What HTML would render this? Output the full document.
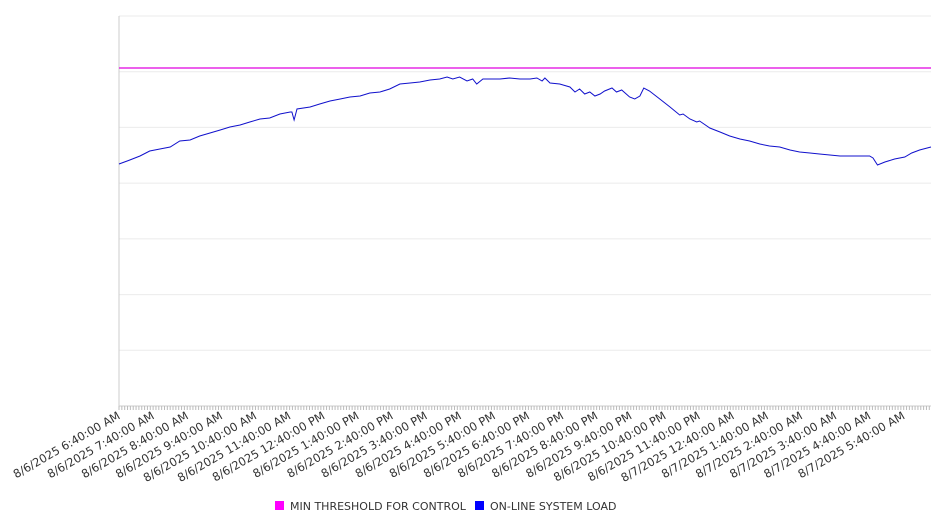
<!DOCTYPE html>
<html><head><meta charset="utf-8"><style>
body{margin:0;background:#fff;font-family:"DejaVu Sans","Liberation Sans",sans-serif}
svg{display:block}
</style></head><body>
<svg id="chart" width="946" height="526" viewBox="0 0 946 526" xmlns="http://www.w3.org/2000/svg"></svg>
<script>
const minutes=[0,19,37,54,72,90,107,125,142,160,178,195,213,230,248,265,283,301,304,308,313,336,353,371,389,406,424,441,459,476,494,512,529,547,564,577,587,599,612,622,629,640,652,670,687,705,723,735,744,749,758,775,793,802,810,819,828,837,846,854,867,875,884,898,907,916,923,933,951,969,986,992,1004,1016,1021,1039,1057,1074,1092,1109,1127,1144,1162,1180,1197,1215,1232,1250,1268,1285,1303,1320,1326,1334,1347,1364,1382,1394,1408,1428];
const loadValues=[2178,2214,2250,2295,2313,2331,2385,2394,2430,2457,2484,2511,2529,2556,2583,2592,2628,2646,2646,2574,2673,2691,2718,2745,2763,2781,2790,2817,2826,2853,2898,2907,2916,2934,2943,2961,2943,2961,2925,2943,2898,2943,2943,2943,2952,2943,2943,2952,2925,2952,2907,2898,2871,2826,2853,2808,2826,2790,2808,2835,2862,2826,2844,2781,2763,2790,2862,2835,2763,2691,2619,2628,2583,2556,2565,2502,2466,2430,2403,2385,2358,2340,2331,2304,2286,2277,2268,2259,2250,2250,2250,2250,2232,2169,2196,2223,2241,2277,2304,2331];
const thresholdValue=3042;
const tickLabels=["8/6/2025 6:40:00 AM","8/6/2025 7:40:00 AM","8/6/2025 8:40:00 AM","8/6/2025 9:40:00 AM","8/6/2025 10:40:00 AM","8/6/2025 11:40:00 AM","8/6/2025 12:40:00 PM","8/6/2025 1:40:00 PM","8/6/2025 2:40:00 PM","8/6/2025 3:40:00 PM","8/6/2025 4:40:00 PM","8/6/2025 5:40:00 PM","8/6/2025 6:40:00 PM","8/6/2025 7:40:00 PM","8/6/2025 8:40:00 PM","8/6/2025 9:40:00 PM","8/6/2025 10:40:00 PM","8/6/2025 11:40:00 PM","8/7/2025 12:40:00 AM","8/7/2025 1:40:00 AM","8/7/2025 2:40:00 AM","8/7/2025 3:40:00 AM","8/7/2025 4:40:00 AM","8/7/2025 5:40:00 AM"];
const yMax=3510, xMax=1428;
const L=119,R=931,T=16,B=406;
const xs=m=>L+(m/xMax)*(R-L);
const ys=v=>B-(v/yMax)*(B-T);
const svg=document.getElementById('chart');
const NS='http://www.w3.org/2000/svg';
function mk(tag,attrs){const e=document.createElementNS(NS,tag);for(const k in attrs)e.setAttribute(k,attrs[k]);svg.appendChild(e);return e;}
// grid
for(let i=0;i<=7;i++){const y=B-i*(B-T)/7;
const g=mk('line',{x1:L,x2:R,y1:y,y2:y,stroke:'#ebebeb','stroke-width':1});

}
const ax=mk('line',{x1:L,x2:L,y1:T,y2:B,stroke:'#ccc','stroke-width':1});


const xa=mk('line',{x1:L,x2:R,y1:B,y2:B,stroke:'#ccc','stroke-width':1});


for(let m=0;m<=xMax;m+=5){const x=xs(m);
const t=mk('line',{x1:x,x2:x,y1:B,y2:B+4,stroke:'#bbb','stroke-width':1});

}
tickLabels.forEach((s,i)=>{const x=xs(i*60);
const t=mk('text',{x:x+2,y:B+12,'text-anchor':'end','font-size':'11.5',fill:'#333',transform:`rotate(-30 ${x+2} ${B+12})`});
t.textContent=s;

});
const th=mk('line',{x1:xs(0),x2:xs(xMax),y1:ys(thresholdValue),y2:ys(thresholdValue),stroke:'#e000e0','stroke-width':1.2});


const p=mk('polyline',{points:minutes.map((m,i)=>xs(m).toFixed(1)+','+ys(loadValues[i]).toFixed(1)).join(' '),fill:'none',stroke:'#1010cc','stroke-width':1});


// legend
const l1=mk('rect',{x:275,y:501,width:9,height:9,fill:'#ff00ff'});


const t1=mk('text',{x:290,y:510,'font-size':'11',fill:'#333'});t1.textContent='MIN THRESHOLD FOR CONTROL';


const l2=mk('rect',{x:475,y:501,width:9,height:9,fill:'#0000ff'});


const t2=mk('text',{x:490,y:510,'font-size':'11',fill:'#333'});t2.textContent='ON-LINE SYSTEM LOAD';


</script>
</body></html>
